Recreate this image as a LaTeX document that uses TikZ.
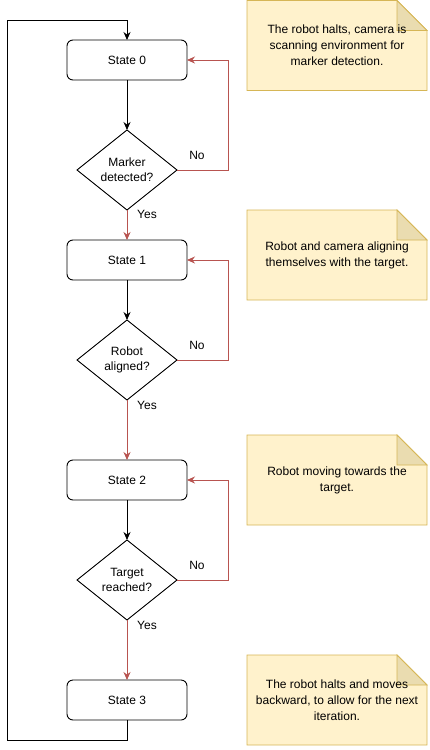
\documentclass[tikz,border=0pt]{standalone}
\usepackage{fontspec}
\setmainfont{Liberation Sans}
\usepackage{tikz}
\usetikzlibrary{shapes.geometric,arrows.meta,positioning,backgrounds}

\definecolor{noteyellow}{HTML}{FFF2CC}
\definecolor{noteedge}{HTML}{D6B656}
\definecolor{notefoldc}{HTML}{EADCB0}
\definecolor{noarrow}{HTML}{B85450}

% note with folded corner, drawn behind the text node
\newcommand{\notebg}[1]{%
  \filldraw[noteshape] (#1.south west) -- (#1.north west) -- ([xshift=-30pt]#1.north east)
    -- ([yshift=-30pt]#1.north east) -- (#1.south east) -- cycle;
  \filldraw[notefold] ([xshift=-30pt]#1.north east) -- ([xshift=-30pt,yshift=-30pt]#1.north east)
    -- ([yshift=-30pt]#1.north east) -- cycle;
}

\begin{document}
\begin{tikzpicture}[
                  font=\fontsize{12}{15}\selectfont,
                  statebox/.style={rectangle, draw, line width=0.9pt, rounded corners=6pt, minimum width=120pt, minimum height=40pt, outer sep=0pt},
                  decision/.style={diamond, draw, line width=0.9pt, aspect=1.25, minimum width=100pt, minimum height=80pt, inner sep=0pt, outer sep=0pt, align=center},
                  notebox/.style={rectangle, minimum width=180pt, minimum height=90pt, inner sep=0pt, outer sep=0pt, align=center, font=\fontsize{12}{16}\selectfont},
                  noteshape/.style={fill=noteyellow, draw=noteedge, line width=0.8pt},
                  notefold/.style={fill=notefoldc, draw=noteedge, line width=0.8pt},
                  line/.style={draw, line width=0.9pt, -{Stealth[length=8pt,width=7pt]}},
                  redline/.style={line, draw=noarrow, -{Stealth[length=8pt,width=7pt,fill=noarrow]}},
                  lbl/.style={inner sep=0pt}
            ]
            \useasboundingbox (0,0) rectangle (429pt,-750pt);

            % Nodes
            \node [statebox] (s0) at (127pt,-60pt) {State 0};
            \node [decision, below=50pt of s0] (d0) {Marker\\detected?};
            \node [statebox, below=30pt of d0] (s1) {State 1};
            \node [decision, below=40pt of s1] (d1) {Robot\\aligned?};
            \node [statebox, below=60pt of d1] (s2) {State 2};
            \node [decision, below=40pt of s2] (d2) {Target\\reached?};
            \node [statebox, below=60pt of d2] (s3) {State 3};

            % Notes
            \node [notebox] (n0) at (337pt,-45.5pt) {The robot halts, camera is\\scanning environment for\\marker detection.};
            \node [notebox] (n1) at (337pt,-255pt) {Robot and camera aligning\\themselves with the target.};
            \node [notebox] (n2) at (337pt,-480pt) {Robot moving towards the\\target.};
            \node [notebox] (n3) at (337pt,-700pt) {The robot halts and moves\\backward, to allow for the next\\iteration.};
            \begin{scope}[on background layer]
              \notebg{n0}
              \notebg{n1}
              \notebg{n2}
              \notebg{n3}
            \end{scope}

            \coordinate (loopbl) at (7pt,-740pt);
            \coordinate (looptl) at (7pt,-20pt);

            % Edges
            \path [line] (s0) -- (d0);
            \path [line] (s1) -- (d1);
            \path [line] (s2) -- (d2);
            \path [redline] (d0) -- (s1);
            \path [redline] (d1) -- (s2);
            \path [redline] (d2) -- (s3);
            \path [redline] (d0.east) -- ++(51pt,0) |- (s0.east);
            \path [redline] (d1.east) -- ++(51pt,0) |- (s1.east);
            \path [redline] (d2.east) -- ++(51pt,0) |- (s2.east);
            \path [line] (s3.south) |- (loopbl) -- (looptl) -| (s0.north);

            % Labels
            \node [lbl] at ([shift={(20pt,15pt)}]d0.east) {No};
            \node [lbl] at ([shift={(20pt,15pt)}]d1.east) {No};
            \node [lbl] at ([shift={(20pt,15pt)}]d2.east) {No};
            \node [lbl] at ([shift={(20pt,-4pt)}]d0.south) {Yes};
            \node [lbl] at ([shift={(20pt,-5pt)}]d1.south) {Yes};
            \node [lbl] at ([shift={(20pt,-5pt)}]d2.south) {Yes};
      \end{tikzpicture}
\end{document}
